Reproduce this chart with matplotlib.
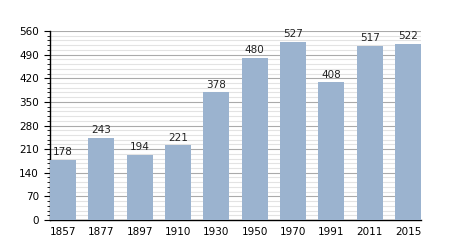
import matplotlib.pyplot as plt
from matplotlib.ticker import MultipleLocator

years = ["1857", "1877", "1897", "1910", "1930", "1950", "1970", "1991", "2011", "2015"]
population = [178, 243, 194, 221, 378, 480, 527, 408, 517, 522]

fig = plt.figure(figsize=(4.5, 2.5), dpi=100)
ax = fig.add_axes([50 / 450, 1 - 220 / 250, 371 / 450, 189 / 250])

x = range(len(years))
bars = ax.bar(x, population, width=0.68, color="#9bb3cf", zorder=3)
for xi, v in zip(x, population):
    ax.annotate(str(v), (xi, v), xytext=(0, 2), textcoords="offset points",
                ha="center", va="bottom", fontsize=7.5, color="#222222")

ax.set_xlim(-0.34, len(years) - 1 + 0.34)
ax.set_ylim(0, 560)
ax.set_xticks(list(x))
ax.set_xticklabels(years)
ax.yaxis.set_major_locator(MultipleLocator(70))
ax.yaxis.set_minor_locator(MultipleLocator(14))

ax.grid(axis="y", which="major", color="#aaaaaa", linewidth=0.8, zorder=0)
ax.grid(axis="y", which="minor", color="#e3e3e3", linewidth=0.8, zorder=0)

for s in ["top", "right"]:
    ax.spines[s].set_visible(False)
ax.spines["left"].set_linewidth(1.0)
ax.spines["bottom"].set_linewidth(1.0)

ax.tick_params(axis="x", length=0, labelsize=7.5, pad=5)
ax.tick_params(axis="y", which="major", length=4, labelsize=7.5, pad=4)
ax.tick_params(axis="y", which="minor", length=2.5)

fig.savefig("out.png", dpi=100)
